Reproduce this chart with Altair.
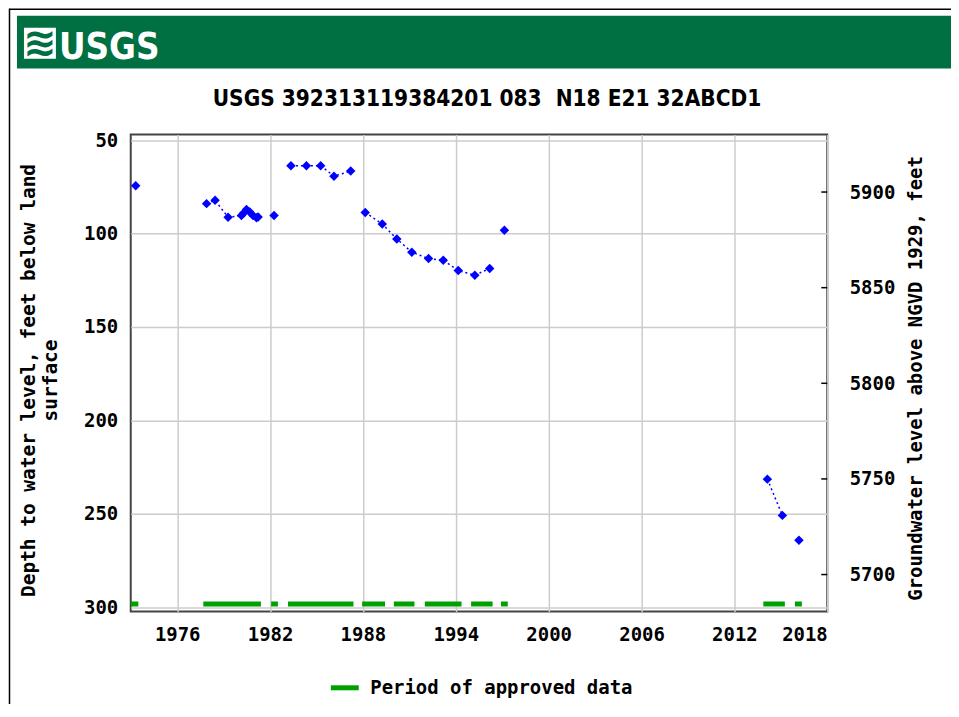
import altair as alt
import pandas as pd

# ---------------- data ----------------
years = [1973.32, 1977.90, 1978.45, 1979.29, 1980.15, 1980.30, 1980.48, 1980.69,
         1980.90, 1981.12, 1981.23, 1982.26, 1983.35, 1984.35, 1985.27, 1986.13,
         1987.21, 1988.15, 1989.25, 1990.19, 1991.16, 1992.24, 1993.19, 1994.16,
         1995.23, 1996.19, 1997.14, 2014.13, 2015.10, 2016.17]
depths = [74.4, 84.0, 82.2, 91.3, 90.4, 89.0, 87.2, 88.5,
          90.3, 91.5, 91.2, 90.4, 63.7, 63.7, 63.7, 69.3,
          66.6, 88.7, 94.9, 102.9, 110.0, 113.4, 114.3, 119.8,
          122.3, 118.7, 98.3, 231.4, 250.8, 264.1]
segments = [0, 1, 1, 1, 1, 1, 1, 1,
            1, 1, 1, 2, 3, 3, 3, 3,
            3, 4, 4, 4, 4, 4, 4, 4,
            4, 4, 5, 6, 6, 7]

approved_start = [1973.0, 1977.69, 1982.07, 1983.16, 1987.95, 1990.0, 1992.0, 1994.99, 1996.92, 2013.87, 2015.91]
approved_end = [1973.49, 1981.41, 1982.51, 1987.39, 1989.43, 1991.33, 1994.37, 1996.38, 1997.36, 2015.26, 2016.36]

x_ticks = [1976, 1982, 1988, 1994, 2000, 2006, 2012, 2018]
depth_ticks = [50, 100, 150, 200, 250, 300]
elev_ticks = [5700, 5750, 5800, 5850, 5900]

title_text = "USGS 392313119384201 083\u00a0 N18 E21 32ABCD1"
left_title = ["Depth to water level, feet below land", "surface"]
right_title = "Groundwater level above NGVD 1929, feet"
legend_label = "Period of approved data"

# ---------------- frames ----------------
pts = pd.DataFrame({"year": years, "depth": depths, "seg": segments})
periods = pd.DataFrame({"start": approved_start, "end": approved_end,
                        "kind": [legend_label] * len(approved_start)})
elev = pd.DataFrame({"elev": elev_ticks})
one = alt.Data(values=[{"a": 1}])

W, H = 698, 478
MONO = "DejaVu Sans Mono"
NARROW = "DejaVu Sans Condensed, Liberation Sans Narrow, Liberation Sans"
GREEN_BANNER = "#006F41"
BLUE = "#0000FF"
APPROVED = "#00A000"

xscale = alt.Scale(domain=[1973, 2018], nice=False, zero=False)
yscale = alt.Scale(domain=[47.0, 302.2], reverse=True, nice=False, zero=False)
escale = alt.Scale(domain=[5680.7, 5930.1], nice=False, zero=False)

LBL = dict(labelFont=MONO, labelFontWeight="bold", labelFontSize=19, labelColor="#000000")
TTL = dict(titleFont=MONO, titleFontWeight="bold", titleColor="#000000")

xaxis = alt.Axis(values=x_ticks, format="d", title=None, orient="bottom",
                 grid=True, gridColor="#cccccc", gridWidth=1.5,
                 tickSize=0, domain=False, labelPadding=14, **LBL)
yaxis = alt.Axis(values=depth_ticks, format="d", title=left_title, orient="left",
                 grid=True, gridColor="#cccccc", gridWidth=1.5,
                 tickSize=0, domain=False, labelPadding=13, **LBL, **TTL,
                 titleFontSize=19.5,
                 titleAngle=270, titleAlign="center",
                 titleBaseline="alphabetic", titleLineHeight=22,
                 titleX=-96, titleY=246)
eaxis = alt.Axis(values=elev_ticks, format="d", title=right_title, orient="right",
                 grid=False, tickSize=0, domain=False, labelPadding=22, **LBL, **TTL,
                 titleFontSize=19,
                 titleAngle=270, titleAlign="center",
                 titleBaseline="alphabetic", titleX=94, titleY=244)

base = alt.Chart(pts)

lines = base.mark_line(color=BLUE, strokeWidth=1.5, strokeDash=[2, 3]).encode(
    x=alt.X("year:Q", scale=xscale, axis=xaxis),
    y=alt.Y("depth:Q", scale=yscale, axis=yaxis),
    detail="seg:N",
)
points = base.mark_point(shape="diamond", filled=True, size=90, color=BLUE, opacity=1).encode(
    x=alt.X("year:Q", scale=xscale),
    y=alt.Y("depth:Q", scale=yscale),
)
main = alt.layer(lines, points)

bars = alt.Chart(periods).mark_rule(strokeWidth=5).encode(
    x=alt.X("start:Q", scale=xscale),
    x2="end:Q",
    y=alt.value(H - 7.5),
    color=alt.Color("kind:N",
                    scale=alt.Scale(domain=[legend_label], range=[APPROVED]),
                    legend=alt.Legend(title=None, orient="none",
                                      legendX=198, legendY=538,
                                      symbolType="stroke", symbolStrokeWidth=5,
                                      symbolSize=784, symbolStrokeColor=APPROVED,
                                      labelFont=MONO, labelFontWeight="bold",
                                      labelFontSize=19, labelColor="#000000",
                                      labelLimit=0, labelOffset=9, padding=0)),
)

rticks = alt.Chart(elev).mark_rule(color="#000000", strokeWidth=1.5).encode(
    y=alt.Y("elev:Q", scale=escale, axis=eaxis),
    x=alt.value(W - 6),
    x2=alt.value(W),
)

# ---------------- decorations ----------------
banner = alt.Chart(one).mark_rect(color=GREEN_BANNER).encode(
    x=alt.value(-114), x2=alt.value(835), y=alt.value(-119), y2=alt.value(-66))
logo_box = alt.Chart(one).mark_rect(color="#ffffff").encode(
    x=alt.value(-107), x2=alt.value(-75), y=alt.value(-107), y2=alt.value(-76))
logo_wave = alt.Chart(one).mark_text(text="\u224b", color=GREEN_BANNER, fontSize=40,
                                     font="DejaVu Sans", fontWeight="bold",
                                     align="center", baseline="middle").encode(
    x=alt.value(-91), y=alt.value(-91))
logo_text = alt.Chart(one).mark_text(text="USGS", color="#ffffff", fontSize=36.5,
                                     font=NARROW, fontWeight="bold",
                                     align="left", baseline="alphabetic").encode(
    x=alt.value(-72), y=alt.value(-76))
title = alt.Chart(one).mark_text(text=title_text, color="#000000", fontSize=22.5,
                                 font=NARROW, fontWeight="bold",
                                 align="center", baseline="alphabetic").encode(
    x=alt.value(357), y=alt.value(-29))
border_left = alt.Chart(one).mark_rule(color="#000000", strokeWidth=1.5).encode(
    x=alt.value(-121.5), y=alt.value(-126), y2=alt.value(600))
border_top = alt.Chart(one).mark_rule(color="#000000", strokeWidth=1.5).encode(
    x=alt.value(-122), x2=alt.value(840), y=alt.value(-125.5))

chart = alt.layer(
    main, rticks, bars,
    banner, logo_box, logo_wave, logo_text, title, border_left, border_top,
).resolve_scale(y="independent").properties(
    width=W, height=H,
    autosize=alt.AutoSizeParams(type="none"),
    padding={"left": 123, "top": 126, "right": 124, "bottom": 92},
    background="#ffffff",
).configure_view(stroke="#444444", strokeWidth=2)

chart.save("out.html", embed_options={"renderer": "svg", "actions": False})
